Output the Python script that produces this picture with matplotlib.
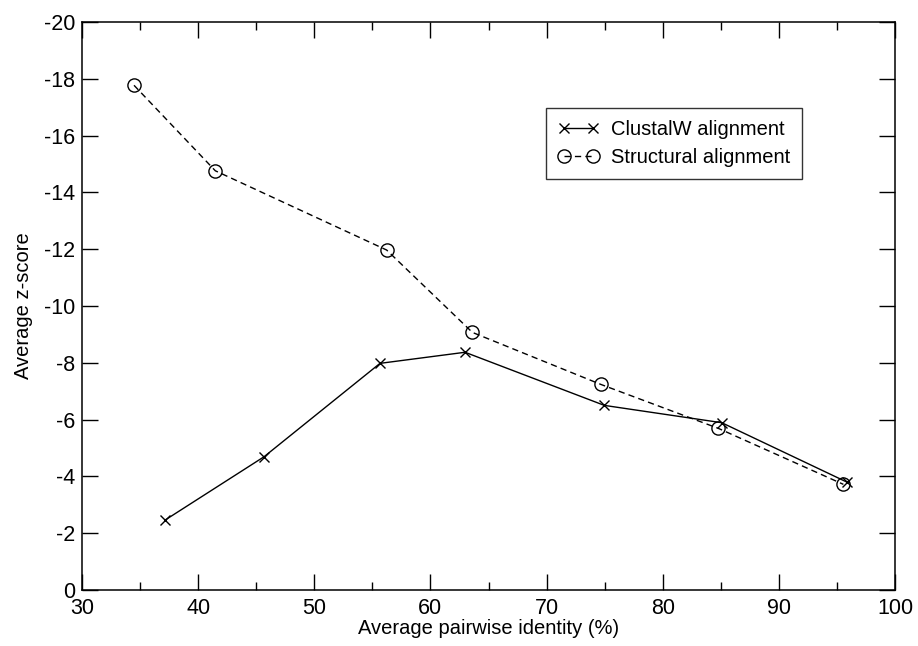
import numpy as np
import matplotlib.pyplot as plt
from matplotlib.ticker import MultipleLocator

plt.rcParams['font.family'] = ['Liberation Sans', 'DejaVu Sans']
plt.rcParams['axes.unicode_minus'] = False

# average pairwise identity (%) and average z-score per bin
clustal_x = [37.15, 45.67, 55.66, 62.98, 74.97, 85.08, 95.9]
clustal_z = [-2.46, -4.69, -7.98, -8.37, -6.50, -5.89, -3.79]

struct_x = [34.48, 41.48, 56.23, 63.61, 74.66, 84.79, 95.55]
struct_z = [-17.77, -14.76, -11.97, -9.07, -7.24, -5.69, -3.72]

fig = plt.figure(figsize=(9.18, 6.46), dpi=100)
ax = fig.add_axes([0.0893, 0.0867, 0.8857, 0.8793])

ax.plot(clustal_x, clustal_z, 'k-', marker='x', ms=7, mew=1.0, lw=1.0,
        label='ClustalW alignment')
ax.plot(struct_x, struct_z, 'k--', marker='o', ms=9.5, mfc='none', mew=1.0,
        lw=1.0, dashes=(4.5, 3), label='Structural alignment')

ax.set_xlim(30, 100)
ax.set_ylim(0, -20)
ax.xaxis.set_major_locator(MultipleLocator(10))
ax.xaxis.set_minor_locator(MultipleLocator(5))
ax.yaxis.set_major_locator(MultipleLocator(2))

ax.tick_params(which='both', direction='in', top=True, right=True,
               labelsize=15.5, width=1.0)
ax.tick_params(which='major', length=11.5)
ax.tick_params(axis='y', pad=5)
ax.tick_params(axis='x', pad=6)
ax.tick_params(axis='x', which='minor', length=5.8)
for s in ax.spines.values():
    s.set_linewidth(1.1)

ax.set_xlabel('Average pairwise identity (%)', fontsize=14.5, labelpad=0)
ax.set_ylabel('Average z-score', fontsize=14.5, labelpad=8)

leg = ax.legend(loc='upper left', bbox_to_anchor=(0.571, 0.848), numpoints=2,
                fontsize=14.5, frameon=True, fancybox=False, handlelength=2.0,
                handletextpad=0.6, borderpad=0.6, labelspacing=0.42,
                borderaxespad=0)
leg.get_frame().set_edgecolor('black')
leg.get_frame().set_linewidth(1.0)

fig.savefig('out.png', dpi=100)
